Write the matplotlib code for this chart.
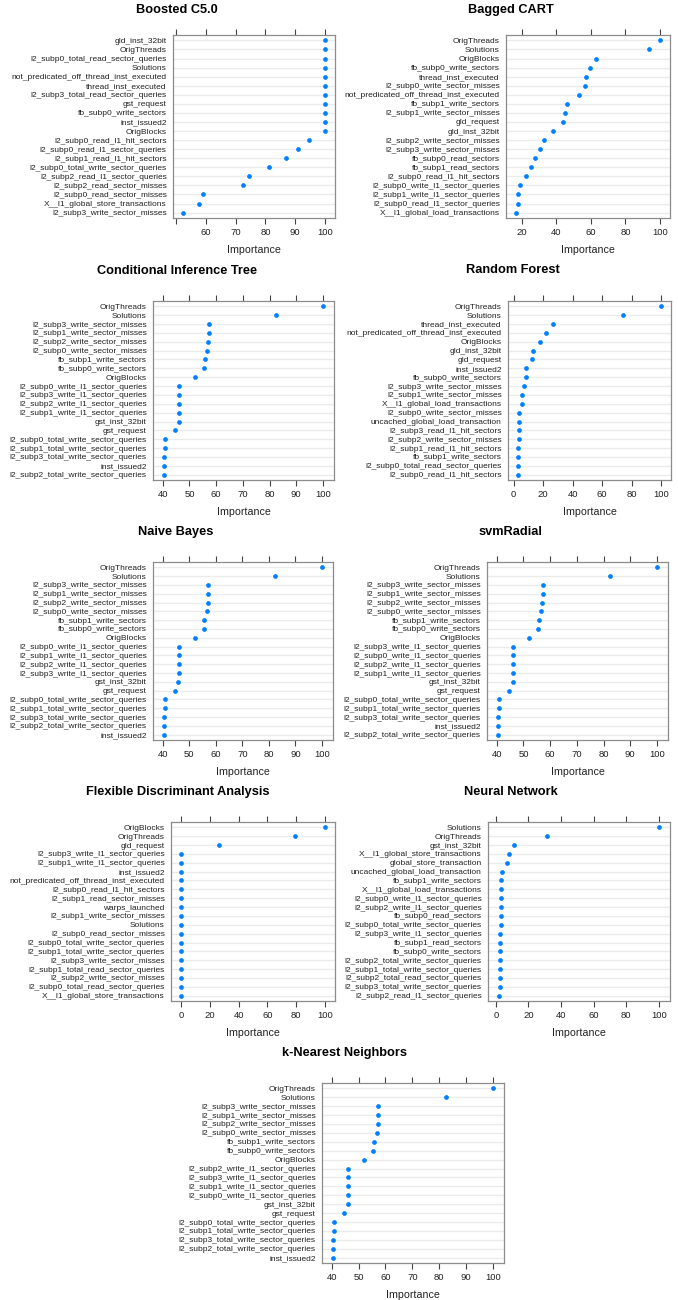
import matplotlib
matplotlib.use('Agg')
import matplotlib.pyplot as plt

plt.rcParams['font.family'] = ['Liberation Sans', 'DejaVu Sans']

# ---- data: variable importance per model (top 20, first = most important)
c50_vars = ['gld_inst_32bit', 'OrigThreads', 'l2_subp0_total_read_sector_queries', 'Solutions',
            'not_predicated_off_thread_inst_executed', 'thread_inst_executed',
            'l2_subp3_total_read_sector_queries', 'gst_request', 'fb_subp0_write_sectors',
            'inst_issued2', 'OrigBlocks', 'l2_subp0_read_l1_hit_sectors',
            'l2_subp0_read_l1_sector_queries', 'l2_subp1_read_l1_hit_sectors',
            'l2_subp0_total_write_sector_queries', 'l2_subp2_read_l1_sector_queries',
            'l2_subp2_read_sector_misses', 'l2_subp0_read_sector_misses',
            'X__l1_global_store_transactions', 'l2_subp3_write_sector_misses']
c50_imp = [100, 100, 100, 100, 100, 100, 100, 100, 100, 100, 100,
           94.5, 91.0, 86.9, 81.3, 74.4, 72.4, 59.1, 57.8, 52.3]

cart_vars = ['OrigThreads', 'Solutions', 'OrigBlocks', 'fb_subp0_write_sectors',
             'thread_inst_executed', 'l2_subp0_write_sector_misses',
             'not_predicated_off_thread_inst_executed', 'fb_subp1_write_sectors',
             'l2_subp1_write_sector_misses', 'gld_request', 'gld_inst_32bit',
             'l2_subp2_write_sector_misses', 'l2_subp3_write_sector_misses',
             'fb_subp0_read_sectors', 'fb_subp1_read_sectors', 'l2_subp0_read_l1_hit_sectors',
             'l2_subp0_write_l1_sector_queries', 'l2_subp1_write_l1_sector_queries',
             'l2_subp0_read_l1_sector_queries', 'X__l1_global_load_transactions']
cart_imp = [100, 93.5, 63.2, 59.7, 57.0, 56.8, 53.2, 46.3, 44.9, 43.6,
            37.8, 32.7, 30.7, 27.5, 25.2, 22.7, 18.7, 18.1, 17.7, 16.7]

ctree_vars = ['OrigThreads', 'Solutions', 'l2_subp3_write_sector_misses',
              'l2_subp1_write_sector_misses', 'l2_subp2_write_sector_misses',
              'l2_subp0_write_sector_misses', 'fb_subp1_write_sectors', 'fb_subp0_write_sectors',
              'OrigBlocks', 'l2_subp0_write_l1_sector_queries', 'l2_subp3_write_l1_sector_queries',
              'l2_subp2_write_l1_sector_queries', 'l2_subp1_write_l1_sector_queries',
              'gst_inst_32bit', 'gst_request', 'l2_subp0_total_write_sector_queries',
              'l2_subp1_total_write_sector_queries', 'l2_subp3_total_write_sector_queries',
              'inst_issued2', 'l2_subp2_total_write_sector_queries']
ctree_imp = [100, 82.4, 57.2, 57.2, 57.1, 56.7, 55.7, 55.5, 52.0, 46.1,
             46.1, 46.0, 46.0, 45.9, 44.6, 40.9, 40.9, 40.6, 40.5, 40.5]

rf_vars = ['OrigThreads', 'Solutions', 'thread_inst_executed',
           'not_predicated_off_thread_inst_executed', 'OrigBlocks', 'gld_inst_32bit',
           'gld_request', 'inst_issued2', 'fb_subp0_write_sectors',
           'l2_subp3_write_sector_misses', 'l2_subp1_write_sector_misses',
           'X__l1_global_load_transactions', 'l2_subp0_write_sector_misses',
           'uncached_global_load_transaction', 'l2_subp3_read_l1_hit_sectors',
           'l2_subp2_write_sector_misses', 'l2_subp1_read_l1_hit_sectors',
           'fb_subp1_write_sectors', 'l2_subp0_total_read_sector_queries',
           'l2_subp0_read_l1_hit_sectors']
rf_imp = [100, 74.4, 26.7, 21.6, 17.5, 13.0, 12.1, 8.5, 8.3, 6.7,
          5.4, 5.4, 3.8, 3.6, 3.6, 3.4, 3.1, 3.1, 3.1, 2.9]

nb_vars = ['OrigThreads', 'Solutions', 'l2_subp3_write_sector_misses',
           'l2_subp1_write_sector_misses', 'l2_subp2_write_sector_misses',
           'l2_subp0_write_sector_misses', 'fb_subp1_write_sectors', 'fb_subp0_write_sectors',
           'OrigBlocks', 'l2_subp0_write_l1_sector_queries', 'l2_subp1_write_l1_sector_queries',
           'l2_subp2_write_l1_sector_queries', 'l2_subp3_write_l1_sector_queries',
           'gst_inst_32bit', 'gst_request', 'l2_subp0_total_write_sector_queries',
           'l2_subp1_total_write_sector_queries', 'l2_subp3_total_write_sector_queries',
           'l2_subp2_total_write_sector_queries', 'inst_issued2']
nb_imp = [100, 82.4, 57.2, 57.2, 57.1, 56.7, 55.7, 55.5, 52.0, 46.1,
          46.1, 46.0, 46.0, 45.9, 44.6, 40.9, 40.9, 40.6, 40.5, 40.5]

svm_vars = ['OrigThreads', 'Solutions', 'l2_subp3_write_sector_misses',
            'l2_subp1_write_sector_misses', 'l2_subp2_write_sector_misses',
            'l2_subp0_write_sector_misses', 'fb_subp1_write_sectors', 'fb_subp0_write_sectors',
            'OrigBlocks', 'l2_subp3_write_l1_sector_queries', 'l2_subp0_write_l1_sector_queries',
            'l2_subp2_write_l1_sector_queries', 'l2_subp1_write_l1_sector_queries',
            'gst_inst_32bit', 'gst_request', 'l2_subp0_total_write_sector_queries',
            'l2_subp1_total_write_sector_queries', 'l2_subp3_total_write_sector_queries',
            'inst_issued2', 'l2_subp2_total_write_sector_queries']
svm_imp = [100, 82.4, 57.2, 57.2, 57.1, 56.7, 55.7, 55.5, 52.0, 46.1,
           46.1, 46.0, 46.0, 45.9, 44.6, 40.9, 40.9, 40.6, 40.5, 40.5]

fda_vars = ['OrigBlocks', 'OrigThreads', 'gld_request', 'l2_subp3_write_l1_sector_queries',
            'l2_subp1_write_l1_sector_queries', 'inst_issued2',
            'not_predicated_off_thread_inst_executed', 'l2_subp0_read_l1_hit_sectors',
            'l2_subp1_read_sector_misses', 'warps_launched', 'l2_subp1_write_sector_misses',
            'Solutions', 'l2_subp0_read_sector_misses', 'l2_subp0_total_write_sector_queries',
            'l2_subp1_total_write_sector_queries', 'l2_subp3_write_sector_misses',
            'l2_subp1_total_read_sector_queries', 'l2_subp2_write_sector_misses',
            'l2_subp0_total_read_sector_queries', 'X__l1_global_store_transactions']
fda_imp = [100, 79.2, 26.1, 0, 0, 0, 0, 0, 0, 0, 0, 0, 0, 0, 0, 0, 0, 0, 0, 0]

nnet_vars = ['Solutions', 'OrigThreads', 'gst_inst_32bit', 'X__l1_global_store_transactions',
             'global_store_transaction', 'uncached_global_load_transaction',
             'fb_subp1_write_sectors', 'X__l1_global_load_transactions',
             'l2_subp0_write_l1_sector_queries', 'l2_subp2_write_l1_sector_queries',
             'fb_subp0_read_sectors', 'l2_subp0_total_write_sector_queries',
             'l2_subp3_write_l1_sector_queries', 'fb_subp1_read_sectors', 'fb_subp0_write_sectors',
             'l2_subp2_total_write_sector_queries', 'l2_subp1_total_write_sector_queries',
             'l2_subp2_total_read_sector_queries', 'l2_subp3_total_write_sector_queries',
             'l2_subp2_read_l1_sector_queries']
nnet_imp = [100, 31.1, 11.0, 8.0, 7.0, 3.7, 3.3, 3.3, 3.1, 3.1,
            2.9, 2.9, 2.7, 2.7, 2.5, 2.5, 2.4, 2.3, 2.2, 2.0]

knn_vars = ['OrigThreads', 'Solutions', 'l2_subp3_write_sector_misses',
            'l2_subp1_write_sector_misses', 'l2_subp2_write_sector_misses',
            'l2_subp0_write_sector_misses', 'fb_subp1_write_sectors', 'fb_subp0_write_sectors',
            'OrigBlocks', 'l2_subp2_write_l1_sector_queries', 'l2_subp3_write_l1_sector_queries',
            'l2_subp1_write_l1_sector_queries', 'l2_subp0_write_l1_sector_queries',
            'gst_inst_32bit', 'gst_request', 'l2_subp0_total_write_sector_queries',
            'l2_subp1_total_write_sector_queries', 'l2_subp3_total_write_sector_queries',
            'l2_subp2_total_write_sector_queries', 'inst_issued2']
knn_imp = [100, 82.4, 57.2, 57.2, 57.1, 56.7, 55.7, 55.5, 52.0, 46.1,
           46.1, 46.0, 46.0, 45.9, 44.6, 40.9, 40.9, 40.6, 40.5, 40.5]

W, H = 678, 1300

# (title, vars, imp, ticks, box px [x0, x1, y0, y1], title centre px (x, y))
panels = [
    ('Boosted C5.0', c50_vars, c50_imp, [50, 60, 70, 80, 90, 100], (173, 335, 35, 218), (177, 10)),
    ('Bagged CART', cart_vars, cart_imp, [20, 40, 60, 80, 100], (506, 670, 35, 218), (511, 10)),
    ('Conditional Inference Tree', ctree_vars, ctree_imp, [40, 50, 60, 70, 80, 90, 100], (153, 334, 301, 480), (177, 271)),
    ('Random Forest', rf_vars, rf_imp, [0, 20, 40, 60, 80, 100], (508, 671, 301, 480), (513, 270)),
    ('Naive Bayes', nb_vars, nb_imp, [40, 50, 60, 70, 80, 90, 100], (153, 333, 562, 740), (176, 532)),
    ('svmRadial', svm_vars, svm_imp, [40, 50, 60, 70, 80, 90, 100], (487, 668, 562, 740), (510, 532)),
    ('Flexible Discriminant Analysis', fda_vars, fda_imp, [0, 20, 40, 60, 80, 100], (171, 335, 822, 1001), (178, 792)),
    ('Neural Network', nnet_vars, nnet_imp, [0, 20, 40, 60, 80, 100], (488, 670, 822, 1001), (511, 792)),
    ('k-Nearest Neighbors', knn_vars, knn_imp, [40, 50, 60, 70, 80, 90, 100], (322, 504, 1083, 1263), (345, 1053)),
]

fig = plt.figure(figsize=(W / 100, H / 100), dpi=100)
box_col = '#8c8c8c'

for title, names, imp, ticks, (x0, x1, y0, y1), (tx, ty) in panels:
    ax = fig.add_axes([x0 / W, 1 - y1 / H, (x1 - x0) / W, (y1 - y0) / H])
    n = len(names)
    ypos = list(range(n))
    for y in ypos:
        ax.axhline(y, color='#ebebeb', lw=1.0, zorder=1)
    ax.plot(imp, ypos, 'o', color='#0080ff', ms=3.4, mec='none', zorder=3)
    lo, hi = min(imp), max(imp)
    pad = 0.07 * (hi - lo)
    ax.set_xlim(lo - pad, hi + pad)
    ax.set_ylim(n - 0.4, -0.6)
    ax.set_yticks(ypos)
    ax.set_yticklabels(names, fontsize=6.05, color='#222222')
    ax.set_xticks(ticks)
    labels = ['' if (title == 'Boosted C5.0' and t == 50) else str(t) for t in ticks]
    ax.set_xticklabels(labels, fontsize=6.8, color='#222222')
    ax.tick_params(axis='y', length=0, pad=4.5)
    ax.tick_params(axis='x', top=True, bottom=True, direction='out', length=4,
                   width=0.8, color='#444444', pad=3)
    for s in ax.spines.values():
        s.set_color(box_col)
        s.set_linewidth(0.9)
    fig.text(((x0 + x1) / 2) / W, 1 - (y1 + 32) / H, 'Importance',
             ha='center', va='center', fontsize=7.7, color='#222222')
    fig.text(tx / W, 1 - ty / H, title, ha='center', va='center',
             fontsize=9.2, fontweight='bold')

fig.savefig('out.png', dpi=100)
